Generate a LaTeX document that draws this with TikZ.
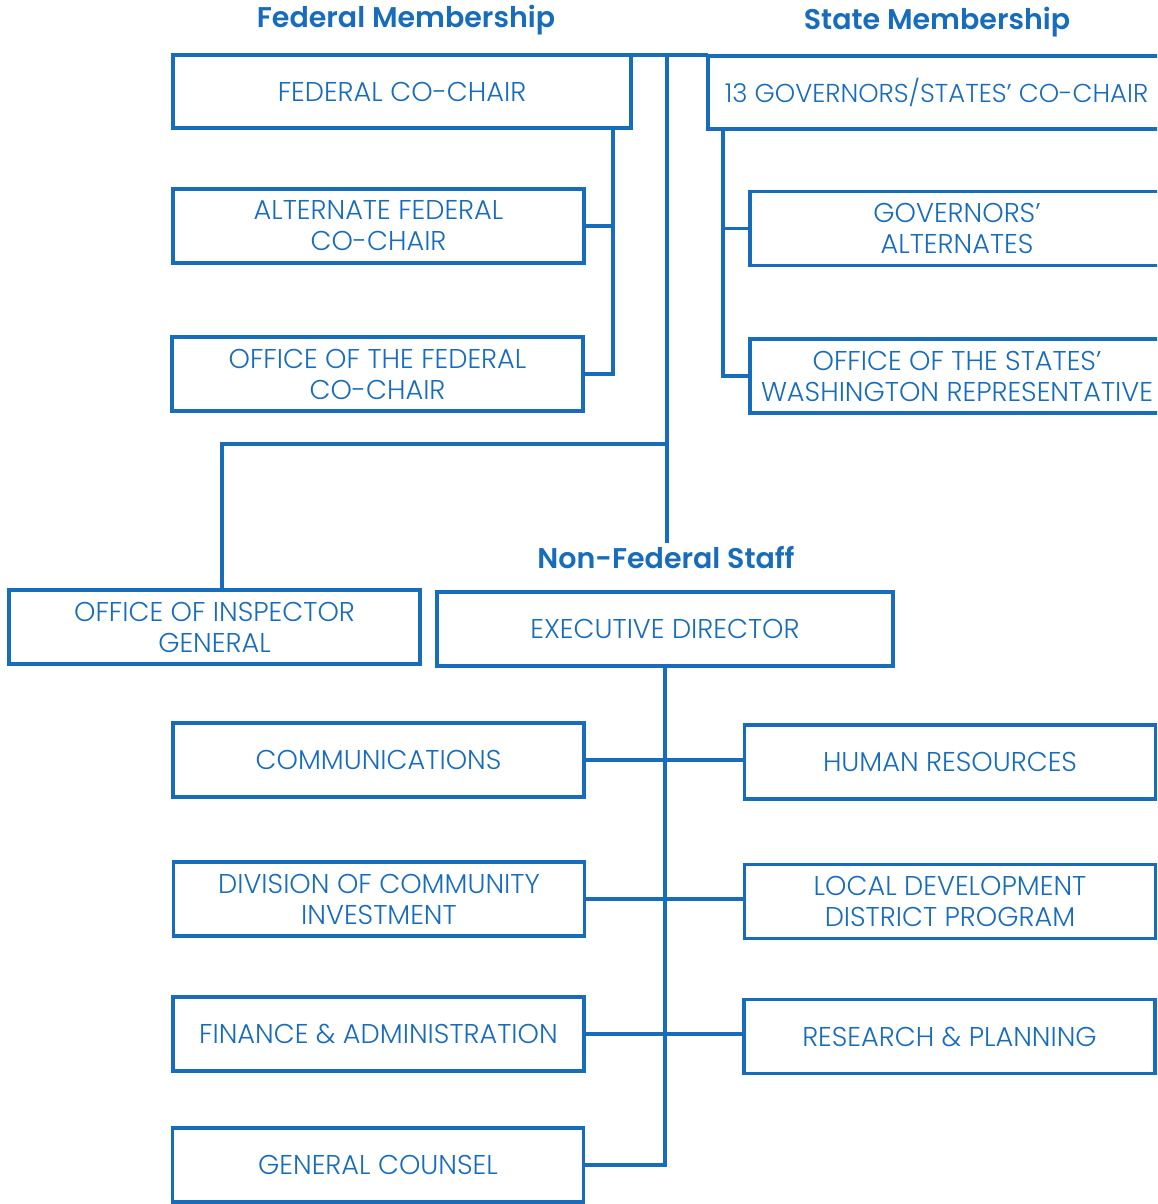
\documentclass[tikz,border=0pt]{standalone}
\usepackage{fontspec}
\setmainfont{Poppins Light}[BoldFont=Poppins SemiBold]
\definecolor{arcblue}{RGB}{24,108,188}
\tikzset{
  orgbox/.style={rectangle,draw=arcblue,line width=3.5pt,inner sep=0pt,outer sep=0pt,minimum width=411pt,minimum height=74pt,text=arcblue,align=center,font=\fontsize{27.2}{31}\selectfont},
  heading/.style={text=arcblue,inner sep=0pt,font=\bfseries\fontsize{28.5}{34}\selectfont},
  link/.style={draw=arcblue,line width=3.5pt}
}
\begin{document}
\begin{tikzpicture}[x=1pt,y=-1pt]
  \clip (0,0) rectangle (1157,1204);
  % headings
  \node[heading] (fedhead) at (406,20) {Federal Membership};
  \node[heading] (statehead) at (937,22) {State Membership};
  \node[heading] (staffhead) at (666,558) {Non-Federal Staff};
  % federal side
  \node[orgbox,minimum width=458pt,minimum height=73pt] (fedchair) at (402,91.5) {FEDERAL CO-CHAIR};
  \node[orgbox] (altfed) at (378.5,226) {ALTERNATE FEDERAL\\CO-CHAIR};
  \node[orgbox] (offfed) at (377.5,374) {OFFICE OF THE FEDERAL\\CO-CHAIR};
  % state side, runs off the page
  \node[orgbox,minimum width=457pt,minimum height=73pt,font=\fontsize{25.9}{31}\selectfont] (statechair) at (936.5,92.5) {13 GOVERNORS/STATES' CO-CHAIR};
  \node[orgbox,minimum width=414pt] (govalt) at (957,228.5) {GOVERNORS'\\ALTERNATES};
  \node[orgbox,minimum width=414pt] (offstate) at (957,376) {OFFICE OF THE STATES'\\WASHINGTON REPRESENTATIVE};
  % staff
  \node[orgbox] (ig) at (214.5,627) {OFFICE OF INSPECTOR\\GENERAL};
  \node[orgbox,minimum width=456pt] (ed) at (665,629) {EXECUTIVE DIRECTOR};
  \node[orgbox] (comm) at (378.5,760) {COMMUNICATIONS};
  \node[orgbox] (dci) at (379,899) {DIVISION OF COMMUNITY\\INVESTMENT};
  \node[orgbox] (fin) at (378.5,1034) {FINANCE \& ADMINISTRATION};
  \node[orgbox] (gc) at (378,1165) {GENERAL COUNSEL};
  \node[orgbox] (hr) at (950,762) {HUMAN RESOURCES};
  \node[orgbox] (ldd) at (950,901.5) {LOCAL DEVELOPMENT\\DISTRICT PROGRAM};
  \node[orgbox] (rp) at (949.5,1036.5) {RESEARCH \& PLANNING};
  % connectors
  \coordinate (fedbus) at (613,0);
  \coordinate (statebus) at (723,0);
  \coordinate (trunk) at (667,543);
  \coordinate (igbend) at (222,444);
  \draw[link] (fedchair.north east) -- (fedchair.north east -| statechair.west);
  \draw[link] (trunk |- fedchair.north) -- (trunk);
  \draw[link] (fedchair.south -| fedbus) -- (offfed.east -| fedbus) -- (offfed.east) (altfed.east) -- (altfed.east -| fedbus);
  \draw[link] (statechair.south -| statebus) -- (offstate.west -| statebus) -- (offstate.west) (govalt.west) -- (govalt.west -| statebus);
  \draw[link] (igbend -| trunk) -- (igbend) -- (ig.north -| igbend);
  \draw[link] (ed.south) -- (ed.south |- gc.east) -- (gc.east);
  \draw[link] (comm.east) -- (comm.east -| hr.west) (dci.east) -- (dci.east -| ldd.west) (fin.east) -- (fin.east -| rp.west);
\end{tikzpicture}
\end{document}
